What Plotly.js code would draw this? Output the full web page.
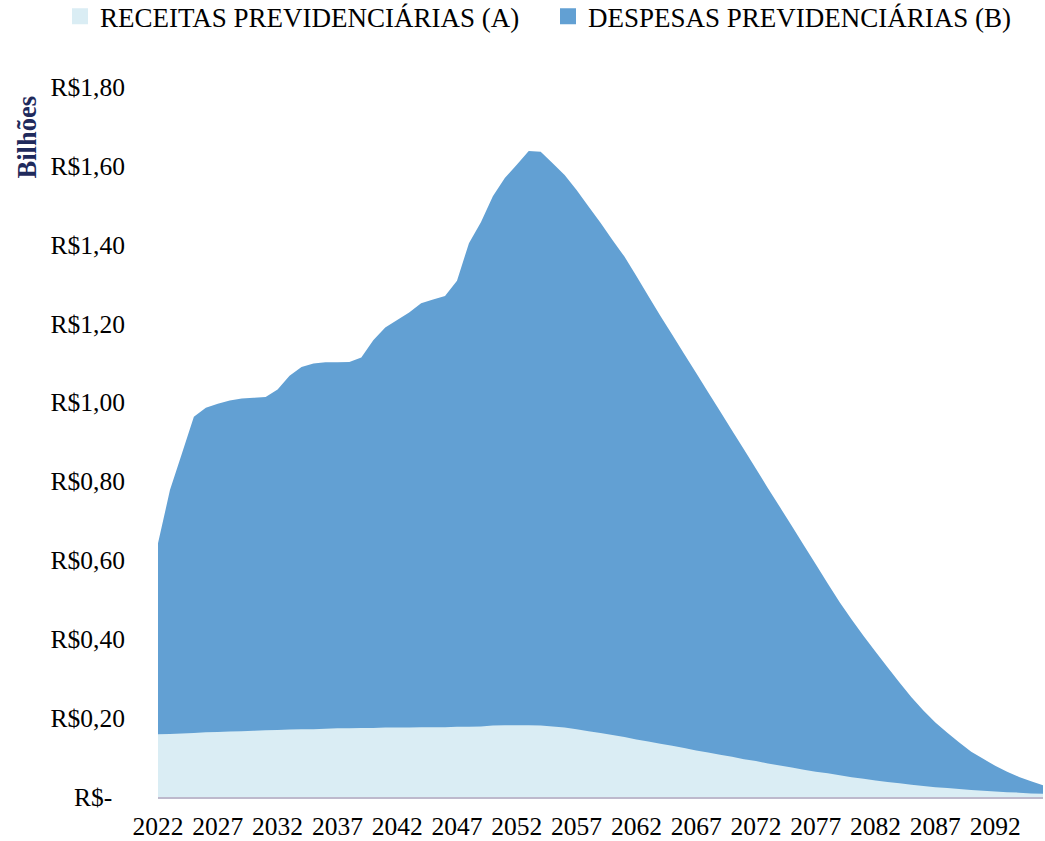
<!DOCTYPE html>
<html>
<head>
<meta charset="utf-8">
<script src="https://cdn.plot.ly/plotly-3.0.1.min.js"></script>
<style>
  html, body { margin: 0; padding: 0; background: #ffffff; }
  #chart { width: 1045px; height: 841px; }
</style>
</head>
<body>
<div id="chart"></div>
<script>
const years = [
  2022, 2023, 2024, 2025, 2026, 2027, 2028, 2029, 2030, 2031,
  2032, 2033, 2034, 2035, 2036, 2037, 2038, 2039, 2040, 2041,
  2042, 2043, 2044, 2045, 2046, 2047, 2048, 2049, 2050, 2051,
  2052, 2053, 2054, 2055, 2056, 2057, 2058, 2059, 2060, 2061,
  2062, 2063, 2064, 2065, 2066, 2067, 2068, 2069, 2070, 2071,
  2072, 2073, 2074, 2075, 2076, 2077, 2078, 2079, 2080, 2081,
  2082, 2083, 2084, 2085, 2086, 2087, 2088, 2089, 2090, 2091,
  2092, 2093, 2094, 2095, 2096
];

const receitas = [
  0.159, 0.160, 0.161, 0.162, 0.164, 0.165, 0.166, 0.167, 0.168, 0.169,
  0.170, 0.171, 0.172, 0.172, 0.173, 0.174, 0.174, 0.175, 0.175, 0.176,
  0.176, 0.176, 0.177, 0.177, 0.177, 0.178, 0.178, 0.179, 0.181, 0.182,
  0.182, 0.182, 0.181, 0.179, 0.176, 0.172, 0.167, 0.162, 0.157, 0.152,
  0.146, 0.141, 0.135, 0.130, 0.124, 0.118, 0.113, 0.107, 0.102, 0.096,
  0.091, 0.085, 0.080, 0.075, 0.069, 0.064, 0.060, 0.055, 0.050, 0.046,
  0.042, 0.038, 0.035, 0.031, 0.028, 0.025, 0.023, 0.020, 0.018, 0.016,
  0.014, 0.012, 0.011, 0.009, 0.008
];

const despesas = [
  0.643, 0.778, 0.871, 0.964, 0.987, 0.997, 1.005, 1.010, 1.012, 1.014,
  1.033, 1.068, 1.090, 1.099, 1.102, 1.102, 1.103, 1.114, 1.158, 1.190,
  1.209, 1.228, 1.252, 1.261, 1.270, 1.309, 1.404, 1.457, 1.523, 1.569,
  1.603, 1.638, 1.636, 1.607, 1.577, 1.539, 1.497, 1.456, 1.412, 1.370,
  1.321, 1.270, 1.220, 1.172, 1.123, 1.075, 1.026, 0.978, 0.929, 0.881,
  0.832, 0.783, 0.735, 0.687, 0.638, 0.590, 0.541, 0.494, 0.450, 0.408,
  0.368, 0.329, 0.290, 0.253, 0.219, 0.189, 0.163, 0.138, 0.115, 0.097,
  0.079, 0.064, 0.051, 0.040, 0.030
];

const seriesNames = ["RECEITAS PREVIDENCIÁRIAS (A)", "DESPESAS PREVIDENCIÁRIAS (B)"];
const xTickVals = [2022, 2027, 2032, 2037, 2042, 2047, 2052, 2057, 2062, 2067, 2072, 2077, 2082, 2087, 2092];
const yTickVals = [0, 0.2, 0.4, 0.6, 0.8, 1.0, 1.2, 1.4, 1.6, 1.8];
const yTickText = ["R$-\u00a0\u00a0", "R$0,20", "R$0,40", "R$0,60", "R$0,80", "R$1,00", "R$1,20", "R$1,40", "R$1,60", "R$1,80"];
const yAxisLabel = "Bilhões";

const colReceitas = "#daedf4";
const colDespesas = "#62a0d3";
const serif = "Liberation Serif, Times New Roman, serif";

const traces = [
  {
    x: years, y: despesas, type: "scatter", mode: "none",
    fill: "tozeroy", fillcolor: colDespesas,
    name: seriesNames[1], showlegend: false, hoverinfo: "x+y"
  },
  {
    x: years, y: receitas, type: "scatter", mode: "none",
    fill: "tozeroy", fillcolor: colReceitas,
    name: seriesNames[0], showlegend: false, hoverinfo: "x+y"
  },
  {
    x: [null], y: [null], type: "scatter", mode: "markers",
    marker: { symbol: "square", size: 16, color: colReceitas },
    name: seriesNames[0], showlegend: true, legend: "legend"
  },
  {
    x: [null], y: [null], type: "scatter", mode: "markers",
    marker: { symbol: "square", size: 16, color: colDespesas },
    name: seriesNames[1], showlegend: true, legend: "legend2"
  }
];

const legendBase = {
  orientation: "h",
  xref: "container", yref: "container",
  xanchor: "left",
  y: 0.98, yanchor: "middle",
  font: { family: serif, size: 27, color: "#000000" },
  itemsizing: "trace",
  bgcolor: "rgba(0,0,0,0)",
  borderwidth: 0
};

const layout = {
  width: 1045, height: 841,
  margin: { l: 158, r: 2, t: 87, b: 44, pad: 0 },
  paper_bgcolor: "#ffffff",
  plot_bgcolor: "#ffffff",
  font: { family: serif, color: "#000000", size: 25.5 },
  showlegend: true,
  legend: Object.assign({}, legendBase, { x: 60 / 1045 }),
  legend2: Object.assign({}, legendBase, { x: 548 / 1045 }),
  xaxis: {
    range: [2022, 2096],
    tickmode: "array",
    tickvals: xTickVals,
    ticktext: xTickVals.map(String),
    ticks: "outside", ticklen: 5, tickcolor: "rgba(0,0,0,0)",
    showgrid: false, zeroline: false,
    showline: true, linecolor: "#bdb9cc", linewidth: 2,
    tickfont: { family: serif, size: 25.5, color: "#000000" },
    fixedrange: true
  },
  yaxis: {
    range: [0, 1.8],
    tickmode: "array",
    tickvals: yTickVals,
    ticktext: yTickText,
    ticks: "outside", ticklen: 27, tickcolor: "rgba(0,0,0,0)",
    showgrid: false, zeroline: false, showline: false,
    tickfont: { family: serif, size: 25.5, color: "#000000" },
    fixedrange: true
  },
  annotations: [
    {
      text: yAxisLabel,
      xref: "paper", yref: "paper",
      x: -0.148, y: 0.929,
      xanchor: "center", yanchor: "middle",
      textangle: -90, showarrow: false,
      font: { family: serif, size: 26.5, color: "#1f2a5c", weight: "bold" }
    }
  ]
};

Plotly.newPlot("chart", traces, layout, { displayModeBar: false, staticPlot: true });
</script>
</body>
</html>
